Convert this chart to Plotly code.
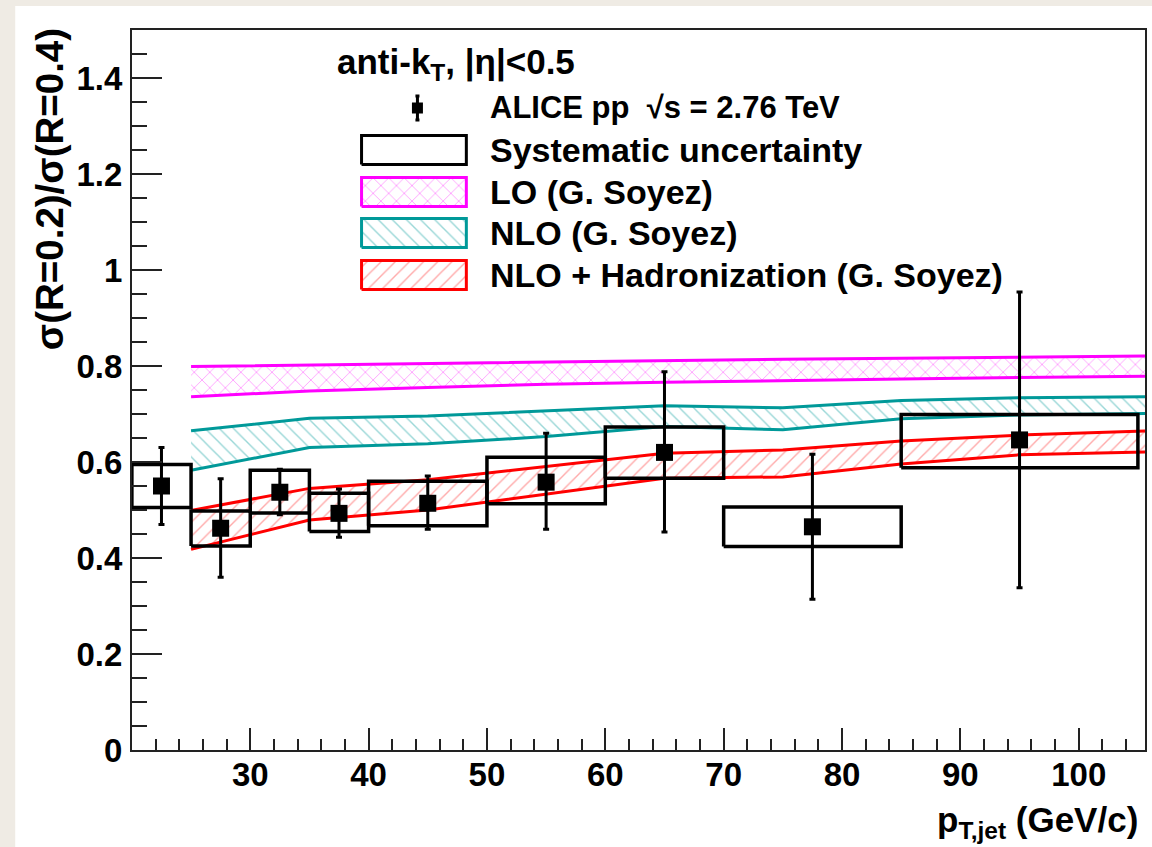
import plotly.graph_objects as go

# ---------------- data ----------------
bin_edges = [20, 25, 30, 35, 40, 50, 60, 70, 85, 105]
pt_centers = [22.5, 27.5, 32.5, 37.5, 45, 55, 65, 77.5, 95]
ratio = [0.550, 0.462, 0.537, 0.493, 0.514, 0.558, 0.620, 0.465, 0.646]
stat_hi = [0.630, 0.565, 0.585, 0.544, 0.571, 0.660, 0.788, 0.616, 0.954]
stat_lo = [0.470, 0.360, 0.490, 0.443, 0.460, 0.460, 0.454, 0.314, 0.338]
sys_hi = [0.595, 0.498, 0.583, 0.535, 0.560, 0.610, 0.673, 0.506, 0.699]
sys_lo = [0.505, 0.425, 0.494, 0.455, 0.467, 0.513, 0.566, 0.424, 0.588]

theory_pt = [25, 35, 45, 55, 65, 75, 85, 95, 106]
lo_hi = [0.799, 0.802, 0.805, 0.808, 0.812, 0.814, 0.816, 0.819, 0.821]
lo_lo = [0.736, 0.748, 0.755, 0.762, 0.766, 0.770, 0.773, 0.776, 0.779]
nlo_hi = [0.665, 0.691, 0.696, 0.706, 0.717, 0.713, 0.728, 0.734, 0.736]
nlo_lo = [0.583, 0.630, 0.638, 0.653, 0.674, 0.667, 0.690, 0.698, 0.701]
had_hi = [0.499, 0.545, 0.563, 0.590, 0.618, 0.625, 0.644, 0.656, 0.665]
had_lo = [0.418, 0.479, 0.500, 0.533, 0.566, 0.569, 0.596, 0.615, 0.621]

legend_labels = ["ALICE pp  √s = 2.76 TeV", "Systematic uncertainty",
                 "LO (G. Soyez)", "NLO (G. Soyez)",
                 "NLO + Hadronization (G. Soyez)"]
legend_sizes = [31, 34, 34, 34, 34]
header_text = "anti-k<sub>T</sub>, |η|&lt;0.5"

# ---------------- styling ----------------
FONT = "Liberation Sans, Arial, Helvetica, sans-serif"
MAGENTA = "#ff00ff"
TEAL = "#009999"
RED = "#ff0000"
W, H = 1152, 847
L, R, T, B = 132, 5, 30, 97
PW, PH = W - L - R, H - T - B

bands = [
    (lo_hi, lo_lo, MAGENTA, "x", "rgba(255,0,255,0.85)", 11),
    (nlo_hi, nlo_lo, TEAL, "\\", "rgba(0,153,153,0.8)", 10),
    (had_hi, had_lo, RED, "/", "rgba(255,40,40,0.8)", 10),
]

fig = go.Figure()

for hi, lo, col, shp, fg, sz in bands:
    fig.add_trace(go.Scatter(
        x=theory_pt + theory_pt[::-1], y=hi + lo[::-1],
        mode="lines", fill="toself", line=dict(width=0),
        fillcolor="rgba(0,0,0,0)",
        fillpattern=dict(shape=shp, fgcolor=fg, bgcolor="rgba(0,0,0,0)",
                         size=sz, solidity=0.14),
        hoverinfo="skip", showlegend=False))
    for edge in (hi, lo):
        fig.add_trace(go.Scatter(x=theory_pt, y=edge, mode="lines",
                                 line=dict(color=col, width=3),
                                 hoverinfo="skip", showlegend=False))

# systematic boxes
bx, by = [], []
for i in range(len(pt_centers)):
    x0, x1 = bin_edges[i], bin_edges[i + 1]
    bx += [x0, x1, x1, x0, x0, None]
    by += [sys_lo[i], sys_lo[i], sys_hi[i], sys_hi[i], sys_lo[i], None]
fig.add_trace(go.Scatter(x=bx, y=by, mode="lines",
                         line=dict(color="black", width=3.5),
                         hoverinfo="skip", showlegend=False))

# data points
fig.add_trace(go.Scatter(
    x=pt_centers, y=ratio, mode="markers",
    marker=dict(symbol="square", size=17, color="black"),
    error_y=dict(type="data", symmetric=False,
                 array=[h - v for h, v in zip(stat_hi, ratio)],
                 arrayminus=[v - l for v, l in zip(ratio, stat_lo)],
                 thickness=3, width=3, color="black"),
    showlegend=False))

# ---------------- manual legend (axis fraction coords) ----------------
def fx(px):
    return (px - L) / PW

def fy(py):
    return (H - B - py) / PH

box_x0, box_x1 = fx(362), fx(467)
rows_y = [108, 150, 192, 233, 275]
half_h = 14.5 / PH

# ALICE marker
fig.add_trace(go.Scatter(
    x=[fx(418)], y=[fy(rows_y[0])], mode="markers", xaxis="x2", yaxis="y2",
    marker=dict(symbol="square", size=11, color="black"),
    error_y=dict(type="constant", value=12 / PH, thickness=3, width=2, color="black"),
    hoverinfo="skip", showlegend=False))
# systematic swatch
yc = fy(rows_y[1])
fig.add_trace(go.Scatter(
    x=[box_x0, box_x1, box_x1, box_x0, box_x0],
    y=[yc - half_h, yc - half_h, yc + half_h, yc + half_h, yc - half_h],
    mode="lines", xaxis="x2", yaxis="y2",
    line=dict(color="black", width=3), hoverinfo="skip", showlegend=False))
# band swatches
for (hi, lo, col, shp, fg, sz), py in zip(bands, rows_y[2:]):
    yc = fy(py)
    fig.add_trace(go.Scatter(
        x=[box_x0, box_x1, box_x1, box_x0, box_x0],
        y=[yc - half_h, yc - half_h, yc + half_h, yc + half_h, yc - half_h],
        mode="lines", fill="toself", xaxis="x2", yaxis="y2",
        line=dict(color=col, width=3), fillcolor="rgba(0,0,0,0)",
        fillpattern=dict(shape=shp, fgcolor=fg, bgcolor="rgba(0,0,0,0)",
                         size=sz, solidity=0.14),
        hoverinfo="skip", showlegend=False))

annotations = []
for lab, py, fs in zip(legend_labels, rows_y, legend_sizes):
    annotations.append(dict(x=fx(489), y=fy(py), xref="paper", yref="paper",
                            text="<b>" + lab + "</b>", showarrow=False,
                            xanchor="left", yanchor="middle",
                            font=dict(family=FONT, size=fs, color="black")))
annotations.append(dict(x=fx(335), y=fy(64), xref="paper", yref="paper",
                        text="<b>" + header_text + "</b>", showarrow=False,
                        xanchor="left", yanchor="middle",
                        font=dict(family=FONT, size=35, color="black")))
# axis titles
annotations.append(dict(x=fx(49), y=fy(189), xref="paper", yref="paper",
                        text="<b>σ(R=0.2)/σ(R=0.4)</b>", textangle=-90,
                        showarrow=False, xanchor="center", yanchor="middle",
                        font=dict(family=FONT, size=38.5, color="black")))
annotations.append(dict(x=fx(1142), y=fy(846), xref="paper", yref="paper",
                        text="<b>p<sub>T,jet</sub> (GeV/c)</b>",
                        showarrow=False, xanchor="right", yanchor="bottom",
                        font=dict(family=FONT, size=35, color="black")))

shapes = [
    dict(type="rect", xref="paper", yref="paper", layer="below",
         x0=fx(15), x1=fx(W + 5), y0=fy(H + 5), y1=fy(6),
         fillcolor="white", line=dict(width=0)),
]

fig.update_layout(
    width=W, height=H,
    margin=dict(l=L, r=R, t=T, b=B, pad=0),
    paper_bgcolor="#efebe4", plot_bgcolor="white",
    showlegend=False,
    annotations=annotations, shapes=shapes,
    xaxis=dict(range=[20.01, 105.6], tick0=0, dtick=10,
               ticks="inside", ticklen=22, tickwidth=1.5, tickcolor="#222",
               minor=dict(ticks="inside", ticklen=11, tick0=0, dtick=2,
                          tickwidth=1.5, tickcolor="#222"),
               showgrid=False, zeroline=False,
               showline=True, linecolor="#222", linewidth=2, mirror=True,
               tickfont=dict(family=FONT, size=33, color="black", weight="bold"),
               ticklabelstandoff=-6),
    yaxis=dict(range=[0, 1.5], tick0=0, dtick=0.2,
               ticks="inside", ticklen=30, tickwidth=1.5, tickcolor="#222",
               minor=dict(ticks="inside", ticklen=15, tick0=0, dtick=0.05,
                          tickwidth=1.5, tickcolor="#222"),
               showgrid=False, zeroline=False,
               showline=True, linecolor="#222", linewidth=2, mirror=True,
               tickfont=dict(family=FONT, size=33, color="black", weight="bold"),
               ticklabelstandoff=1),
    xaxis2=dict(overlaying="x", range=[0, 1], visible=False, anchor="y2"),
    yaxis2=dict(overlaying="y", range=[0, 1], visible=False, anchor="x2"),
)

fig.write_html("out.html")
